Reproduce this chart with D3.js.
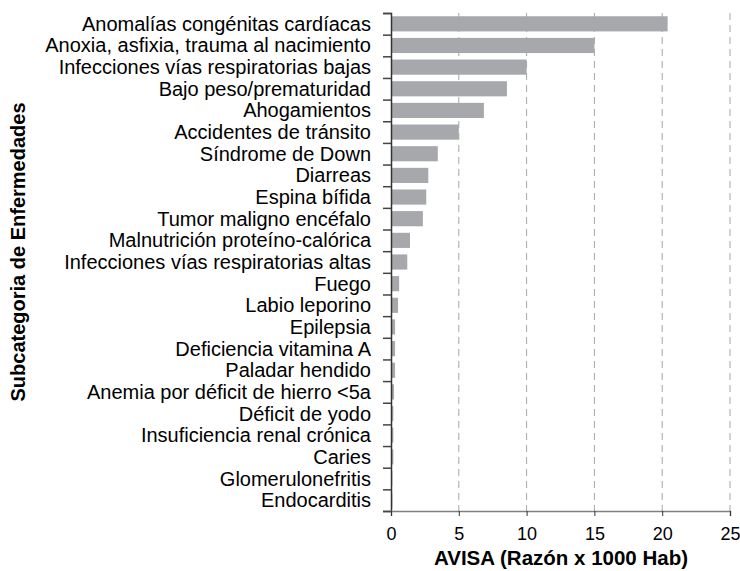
<!DOCTYPE html>
<html>
<head>
<meta charset="utf-8">
<script src="https://cdnjs.cloudflare.com/ajax/libs/d3/7.8.5/d3.min.js"></script>
<style>
  body { margin: 0; background: #fff; }
  svg { display: block; font-family: "Liberation Sans", Arial, sans-serif; }
</style>
</head>
<body>
<svg width="740" height="571"></svg>
<script>
// subcategories, top to bottom
const categories = [
  "Anomalías congénitas cardíacas",
  "Anoxia, asfixia, trauma al nacimiento",
  "Infecciones vías respiratorias bajas",
  "Bajo peso/prematuridad",
  "Ahogamientos",
  "Accidentes de tránsito",
  "Síndrome de Down",
  "Diarreas",
  "Espina bífida",
  "Tumor maligno encéfalo",
  "Malnutrición proteíno-calórica",
  "Infecciones vías respiratorias altas",
  "Fuego",
  "Labio leporino",
  "Epilepsia",
  "Deficiencia vitamina A",
  "Paladar hendido",
  "Anemia por déficit de hierro <5a",
  "Déficit de yodo",
  "Insuficiencia renal crónica",
  "Caries",
  "Glomerulonefritis",
  "Endocarditis"
];
// AVISA (razón x 1000 hab)
const avisa = [20.4, 15.0, 10.0, 8.55, 6.85, 5.0, 3.45, 2.75, 2.6, 2.35, 1.4, 1.2,
  0.6, 0.52, 0.3, 0.3, 0.3, 0.22, 0.17, 0.17, 0.17, 0.1, 0.1];
const xTicks = [0, 5, 10, 15, 20, 25];

const svg = d3.select("svg"),
  margin = { top: 13, right: 10, bottom: 60, left: 391 },
  width = 730 - margin.left,
  height = 511 - margin.top;

const x = d3.scaleLinear().domain([0, 25]).range([0, width]);
const y = d3.scaleBand().domain(categories).range([0, height]).paddingInner(0.3).paddingOuter(0.15);
const yEdge = d3.scaleLinear().domain([0, categories.length]).range([0, height]);

const g = svg.append("g")
  .attr("transform", "translate(" + margin.left + "," + margin.top + ")");

// dashed grid
g.selectAll(".grid")
  .data(xTicks.slice(1))
  .enter().append("line")
  .attr("x1", d => x(d)).attr("x2", d => x(d))
  .attr("y1", 0).attr("y2", height)
  .attr("stroke", "#a6a6a6")
  .attr("stroke-width", 1)
  .attr("stroke-dasharray", "7,5");

// bars
g.selectAll(".bar")
  .data(avisa)
  .enter().append("rect")
  .attr("class", "bar")
  .attr("x", x(0))
  .attr("y", (d, i) => y(categories[i]))
  .attr("width", d => x(d) - x(0))
  .attr("height", y.bandwidth())
  .attr("fill", "#a7a8ab");

// left axis: ticks at band edges
const leftTicks = g.append("g")
  .call(d3.axisLeft(yEdge).tickValues(d3.range(categories.length + 1)).tickSize(8).tickFormat(""));
leftTicks.select(".domain").attr("stroke", "#333").attr("stroke-width", 1.5);
leftTicks.selectAll(".tick line").attr("stroke", "#444").attr("stroke-width", 1.5);

// category labels
const labels = g.append("g")
  .call(d3.axisLeft(y).tickSize(0).tickPadding(20));
labels.select(".domain").remove();
labels.selectAll("text")
  .attr("dy", "0.35em")
  .style("font-size", "20px")
  .attr("fill", "#000");

// bottom axis
const xAxis = g.append("g")
  .attr("transform", "translate(0," + height + ")")
  .call(d3.axisBottom(x).tickValues(xTicks).tickSize(5).tickPadding(10));
xAxis.select(".domain").attr("stroke", "#808080").attr("stroke-width", 1.5);
xAxis.selectAll(".tick line").attr("stroke", "#333").attr("stroke-width", 1);
xAxis.selectAll("text")
  .style("font-size", "18px")
  .attr("fill", "#000")
  .attr("dy", "0.75em");

// axis titles
svg.append("text")
  .attr("x", 561).attr("y", 565)
  .attr("text-anchor", "middle")
  .style("font-size", "20.5px")
  .style("font-weight", "bold")
  .attr("fill", "#000")
  .text("AVISA (Razón x 1000 Hab)");

svg.append("text")
  .attr("transform", "translate(25,252) rotate(-90)")
  .attr("text-anchor", "middle")
  .style("font-size", "20px")
  .style("font-weight", "bold")
  .attr("fill", "#000")
  .text("Subcategoria de Enfermedades");
</script>
</body>
</html>
